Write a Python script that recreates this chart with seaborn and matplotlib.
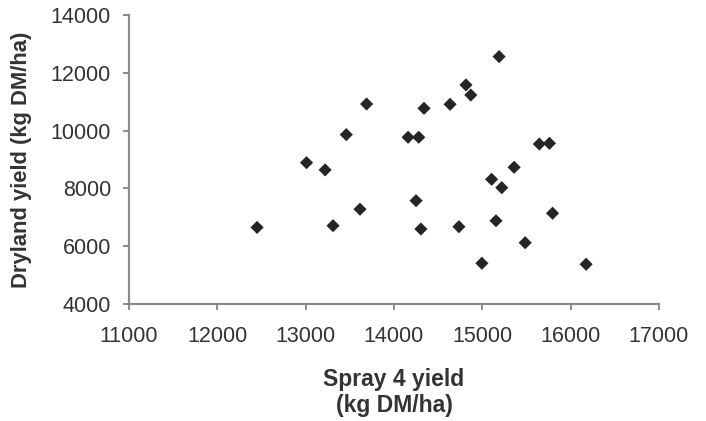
import numpy as np
import pandas as pd
import matplotlib
matplotlib.use("Agg")
import matplotlib.pyplot as plt
import seaborn as sns

# values
spray4_yield = [12450, 13010, 13220, 13310, 13460, 13615, 13690, 14160, 14280, 14250,
                14340, 14305, 14635, 14735, 14815, 14870, 14995, 15105, 15155, 15220,
                15190, 15360, 15485, 15645, 15760, 15795, 16175]
dryland_yield = [6650, 8890, 8640, 6710, 9860, 7280, 10920, 9770, 9770, 7575,
                 10770, 6595, 10910, 6675, 11580, 11230, 5410, 8315, 6880, 8025,
                 12560, 8730, 6120, 9535, 9560, 7140, 5375]

df = pd.DataFrame({"spray": spray4_yield, "dryland": dryland_yield})

sns.set_style("white")
plt.rcParams['font.family'] = ['Liberation Sans', 'DejaVu Sans']

fig = plt.figure(figsize=(7.06, 4.21), dpi=100)
ax = fig.add_axes([0.1827, 0.2779, 0.7507, 0.6865])

sns.scatterplot(data=df, x="spray", y="dryland", marker="D", s=45,
                color="#252525", edgecolor="none", ax=ax)

ax.set_xlim(11000, 17000)
ax.set_ylim(4000, 14000)
ax.set_xticks(np.arange(11000, 17001, 1000))
ax.set_yticks(np.arange(4000, 14001, 2000))

for side in ["top", "right"]:
    ax.spines[side].set_visible(False)
for side in ["left", "bottom"]:
    ax.spines[side].set_color("#8a8a8a")
    ax.spines[side].set_linewidth(1.6)

ax.tick_params(axis="both", direction="out", length=4, width=1.4, color="#8a8a8a",
               labelsize=15.5, labelcolor="#333333")
ax.tick_params(axis="x", bottom=True, pad=12)
ax.tick_params(axis="y", left=True, pad=9)

ax.set_xlabel("Spray 4 yield\n(kg DM/ha)", fontsize=16.5, fontweight="bold",
              color="#333333", linespacing=1.2, va="top")
ax.xaxis.set_label_coords(0.5, -0.22)
ax.set_ylabel("Dryland yield (kg DM/ha)", fontsize=15.8, fontweight="bold",
              color="#333333")
ax.yaxis.set_label_coords(-0.183, 0.5)

fig.savefig("out.png", dpi=100, facecolor="white")
